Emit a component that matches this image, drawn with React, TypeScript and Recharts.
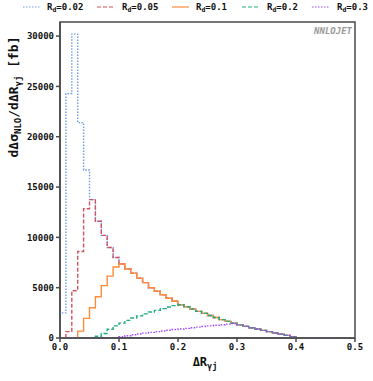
import { ComposedChart, Line, XAxis, YAxis, ReferenceArea } from 'recharts';

// bin width 0.01, values per bin starting at 0.00
const tail = [
  3300, 3100, 2880, 2650, 2450, 2230, 2030, 1830, 1650, 1470,
  1300, 1160, 1020, 890, 760, 630, 500, 380, 260, 140,
];
const orangeHead = [
  0, 0, 0, 680, 1950, 3000, 4100, 5200, 6150, 7050,
  7350, 6850, 6450, 5950, 5500, 5000, 4650, 4300, 3950, 3650,
];
const rd002 = [2500, 24300, 30200, 21400, 16700, 13750, 11600, 10200, 9000, 8000, ...orangeHead.slice(10), ...tail];
const rd005 = [0, 630, 4700, 8600, 12850, 13750, 11600, 10200, 9000, 8000, ...orangeHead.slice(10), ...tail];
const rd01 = [...orangeHead, ...tail];
const rd02 = [
  0, 0, 0, 0, 0, 0, 170, 450, 870, 1200,
  1480, 1750, 1980, 2200, 2400, 2580, 2750, 2920, 3080, 3220,
  ...tail,
];
const rd03 = [
  0, 0, 0, 0, 0, 0, 0, 0, 0, 40,
  130, 230, 320, 400, 480, 560, 630, 700, 770, 840,
  900, 960, 1020, 1080, 1140, 1200, 1260, 1320, 1380, 1440,
  ...tail.slice(10),
];

const xTicks = [0, 0.1, 0.2, 0.3, 0.4, 0.5];
const yTicks = [0, 5000, 10000, 15000, 20000, 25000, 30000];

const series = [
  { key: 'rd002', label: '0.02', values: rd002, color: '#6f9de6', dash: '1.5 1.5' },
  { key: 'rd005', label: '0.05', values: rd005, color: '#d2535e', dash: '4 2' },
  { key: 'rd01', label: '0.1', values: rd01, color: '#ff8c3c', dash: undefined },
  { key: 'rd02', label: '0.2', values: rd02, color: '#22ad7b', dash: '4 2' },
  { key: 'rd03', label: '0.3', values: rd03, color: '#a348ff', dash: '1.5 1.5' },
];

const NBINS = 50;
const rows: Array<Record<string, number>> = [];
const first: Record<string, number> = { x: 0 };
series.forEach((s) => (first[s.key] = 0));
rows.push(first);
for (let i = 0; i <= NBINS; i++) {
  const r: Record<string, number> = { x: i / 100 };
  series.forEach((s) => (r[s.key] = i < NBINS ? s.values[i] ?? 0 : 0));
  rows.push(r);
}

const mono = 'DejaVu Sans Mono';
const tickStyle = { fill: '#111', fontSize: 9, fontFamily: mono, fontWeight: 700 };

const legendPos = [
  { lx: 23, tx: 47 },
  { lx: 97, tx: 122 },
  { lx: 172, tx: 196 },
  { lx: 242, tx: 267 },
  { lx: 312, tx: 337 },
];

export default function App() {
  return (
    <div style={{ position: 'absolute', left: 0, top: 0, width: 373, height: 381, background: '#fff' }}>
      <ComposedChart width={373} height={381} data={rows} margin={{ top: 22, right: 18, bottom: 13, left: 10 }}>
        <XAxis
          dataKey="x"
          type="number"
          domain={[0, 0.5]}
          ticks={xTicks}
          tickFormatter={(v: number) => v.toFixed(1)}
          stroke="#4a4a4a"
          strokeWidth={1.5}
          tickSize={4}
          height={30}
          tick={tickStyle}
          allowDataOverflow
        />
        <YAxis
          type="number"
          domain={[0, 31400]}
          ticks={yTicks}
          stroke="#4a4a4a"
          strokeWidth={1.5}
          tickSize={4}
          width={50}
          tick={tickStyle}
          allowDataOverflow
        />
        {series.map((s) => (
          <Line
            key={s.key}
            type="stepAfter"
            dataKey={s.key}
            stroke={s.color}
            strokeWidth={1.4}
            strokeDasharray={s.dash}
            dot={false}
            activeDot={false}
            isAnimationActive={false}
          />
        ))}
        <ReferenceArea x1={0} x2={0.5} y1={0} y2={31400} fill="none" stroke="#4a4a4a" strokeWidth={1.5} ifOverflow="visible" />
      </ComposedChart>
      <svg width={373} height={381} style={{ position: 'absolute', left: 0, top: 0, pointerEvents: 'none' }}>
        {series.map((s, i) => (
          <g key={s.key}>
            <line x1={legendPos[i].lx} x2={legendPos[i].lx + 17} y1={7} y2={7} stroke={s.color} strokeWidth={1.2} strokeDasharray={s.dash} />
            <text x={legendPos[i].tx} y={10} fontFamily={mono} fontSize={9} fontWeight={700} fill="#111">
              R<tspan fontSize={6.5} dy={2}>d</tspan>
              <tspan dy={-2}>={s.label}</tspan>
            </text>
          </g>
        ))}
        <text x={352} y={34} textAnchor="end" fontFamily={mono} fontSize={9} fontWeight={700} fontStyle="italic" fill="#999">
          NNLOJET
        </text>
        <text x={205} y={366} textAnchor="middle" fontFamily={mono} fontSize={12} fontWeight={700} fill="#111">
          ΔR<tspan fontSize={8.5} dy={3}>γj</tspan>
        </text>
        <text
          transform="translate(18,97) rotate(-90)"
          textAnchor="middle"
          fontFamily={mono}
          fontSize={13}
          fontWeight={700}
          fill="#111"
        >
          dΔσ<tspan fontSize={9} dy={3}>NLO</tspan>
          <tspan dy={-3}>/dΔR</tspan>
          <tspan fontSize={9} dy={3}>γj</tspan>
          <tspan dy={-3}> [fb]</tspan>
        </text>
      </svg>
    </div>
  );
}
